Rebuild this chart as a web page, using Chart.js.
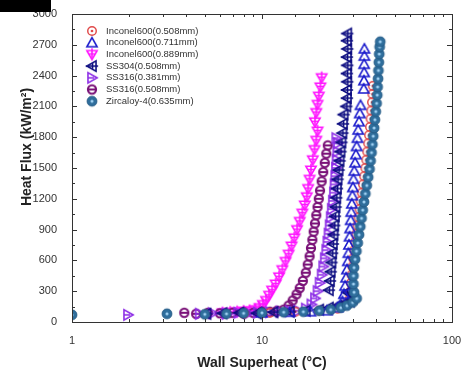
<!DOCTYPE html>
<html>
<head>
<meta charset="utf-8">
<script src="https://cdn.jsdelivr.net/npm/chart.js@4"></script>
<style>
  html, body { margin: 0; padding: 0; background: #fff; }
  #wrap { position: absolute; left: 0; top: 0; width: 467px; height: 379px; }
  #corner { position: absolute; left: 0; top: 0; width: 51px; height: 12px; background: #000; }
</style>
</head>
<body>
<div id="wrap"><canvas id="c" width="467" height="379"></canvas></div>
<div id="corner"></div>
<script>
// Axis ticks
const yTicks = [0, 300, 600, 900, 1200, 1500, 1800, 2100, 2400, 2700, 3000];
const xTickLabels = [1, 10, 100];

// Inconel600 (0.508 mm)
const inc508_dT = [8, 11, 15, 20, 25, 28, 29, 29.3, 29.4, 29.6, 29.9, 30.2, 30.6, 31.0, 31.4, 31.8, 32.2, 32.6, 33.0, 33.5, 34.0, 34.5, 35.0, 35.4, 35.8, 36.2, 36.6, 37.0, 37.3, 37.6, 37.9, 38.1, 38.3];
const inc508_q  = [80, 90, 100, 110, 130, 170, 230, 300, 380, 460, 540, 620, 700, 780, 860, 940, 1020, 1100, 1180, 1260, 1340, 1420, 1500, 1580, 1660, 1740, 1820, 1900, 1980, 2060, 2140, 2220, 2300];

// Inconel600 (0.711 mm)
const inc711_dT = [10, 14, 18, 22, 25, 26.5, 27, 27.4, 27.7, 28.0, 28.3, 28.5, 28.7, 28.9, 29.1, 29.3, 29.5, 29.7, 29.9, 30.1, 30.3, 30.6, 30.9, 31.2, 31.5, 31.8, 32.1, 32.4, 32.7, 33.0, 34.3, 34.4, 34.5, 34.5, 34.6, 34.6];
const inc711_q  = [90, 95, 100, 110, 140, 200, 270, 350, 430, 510, 590, 670, 750, 830, 910, 990, 1070, 1150, 1230, 1310, 1390, 1470, 1550, 1630, 1710, 1790, 1870, 1950, 2030, 2110, 2270, 2350, 2430, 2510, 2590, 2660];

// Inconel600 (0.889 mm)
const inc889_dT = [6.2, 6.8, 7.4, 8.0, 8.6, 9.2, 9.7, 10.1, 10.5, 10.9, 11.3, 11.8, 12.3, 12.8, 13.3, 13.8, 14.3, 14.8, 15.3, 15.8, 16.3, 16.8, 17.2, 17.5, 17.8, 18.1, 18.5, 18.9, 19.3, 19.6, 19.0, 19.3, 19.6, 19.9, 20.3, 20.6];
const inc889_q  = [90, 95, 100, 105, 110, 120, 140, 170, 210, 260, 310, 370, 440, 510, 590, 660, 740, 820, 900, 980, 1060, 1140, 1220, 1300, 1390, 1480, 1580, 1680, 1770, 1860, 1950, 2040, 2120, 2200, 2290, 2380];

// SS304 (0.508 mm)
const ss304_dT = [5.1, 6.2, 7.6, 9.4, 11.5, 14, 17, 20, 22.5, 25, 27, 29, 30, 29.5, 28, 22.5, 22.8, 23.0, 23.2, 23.4, 23.6, 23.8, 24.0, 24.2, 24.4, 24.6, 24.8, 25.0, 25.3, 25.6, 25.9, 26.2, 26.5, 26.7, 26.9, 27.8, 28.0, 28.0, 28.1, 28.0, 28.1, 28.0, 28.1, 28.0, 28.1];
const ss304_q  = [80, 85, 90, 85, 95, 100, 110, 120, 140, 160, 180, 200, 230, 270, 290, 310, 400, 490, 580, 670, 760, 850, 940, 1030, 1120, 1210, 1300, 1390, 1480, 1570, 1660, 1750, 1840, 1930, 2020, 2100, 2180, 2260, 2340, 2420, 2500, 2580, 2660, 2740, 2810];

// SS316 (0.381 mm)
const ss381_dT = [1.97, 4.7, 5.5, 6.5, 7.5, 8.5, 9.5, 11, 12.5, 14, 15.5, 17, 18.2, 19.0, 19.6, 20.1, 20.6, 21.0, 21.4, 21.8, 22.1, 22.4, 22.7, 23.0, 23.3, 23.6, 23.9, 24.1, 24.3, 24.5, 24.7, 24.9, 25.1, 24.6];
const ss381_q  = [70, 80, 85, 80, 90, 85, 90, 95, 100, 105, 110, 130, 170, 230, 300, 380, 460, 540, 620, 700, 780, 860, 940, 1020, 1100, 1180, 1260, 1340, 1420, 1500, 1580, 1660, 1740, 1790];

// SS316 (0.508 mm)
const ss508_dT = [3.9, 4.5, 5.2, 6, 7, 8, 9, 10, 11, 12, 13, 13.8, 14.5, 15.2, 15.8, 16.4, 17.0, 17.4, 17.8, 18.1, 18.4, 18.7, 19.0, 19.3, 19.6, 19.9, 20.2, 20.6, 21.0, 21.4, 21.8, 22.2];
const ss508_q  = [90, 80, 90, 85, 90, 95, 90, 100, 100, 110, 120, 160, 210, 270, 330, 400, 480, 560, 640, 720, 800, 880, 960, 1040, 1120, 1200, 1280, 1370, 1460, 1550, 1640, 1720];

// Zircaloy-4 (0.635 mm)
const zr_dT = [1, 3.16, 5.0, 6.5, 8, 10, 13, 16.5, 20, 23, 26, 28, 30, 31.5, 30.5, 30.3, 30.3, 30.5, 30.9, 31.4, 31.9, 32.4, 32.9, 33.4, 33.9, 34.4, 35.0, 35.6, 36.2, 36.8, 37.3, 37.7, 38.1, 38.5, 38.9, 39.3, 39.7, 40.1, 40.4, 40.6, 40.8, 41.0, 41.2, 41.4, 41.6, 41.9];
const zr_q  = [70, 80, 75, 80, 85, 90, 95, 100, 110, 120, 140, 160, 190, 230, 290, 370, 450, 530, 610, 690, 770, 850, 930, 1010, 1090, 1170, 1250, 1330, 1410, 1490, 1570, 1650, 1730, 1810, 1890, 1970, 2050, 2130, 2210, 2290, 2370, 2450, 2530, 2610, 2680, 2730];

const toPoints = (xs, ys) => xs.map((x, i) => ({ x: x, y: ys[i] }));

// Small canvas glyphs used as point styles
function glyph(draw) {
  const s = 16;
  const c = document.createElement('canvas');
  c.width = s; c.height = s;
  const g = c.getContext('2d');
  g.translate(s / 2, s / 2);
  g.scale(1.12, 1.12);
  g.lineJoin = 'miter';
  draw(g);
  return c;
}
const mkCircleDot = glyph(g => {
  g.strokeStyle = '#e04a4a'; g.lineWidth = 1.3;
  g.beginPath(); g.arc(0, 0, 3.8, 0, Math.PI * 2); g.stroke();
  g.fillStyle = '#e04a4a'; g.beginPath(); g.arc(0, 0, 1.2, 0, Math.PI * 2); g.fill();
});
const mkTriUp = glyph(g => {
  g.strokeStyle = '#1a1acc'; g.lineWidth = 1.4;
  g.beginPath(); g.moveTo(0, -4.6); g.lineTo(4.6, 3.6); g.lineTo(-4.6, 3.6); g.closePath(); g.stroke();
});
const mkTriDownCross = glyph(g => {
  g.strokeStyle = '#ff14ff'; g.lineWidth = 1.4;
  g.beginPath(); g.moveTo(-4.6, -3.4); g.lineTo(4.6, -3.4); g.lineTo(0, 4.6); g.closePath(); g.stroke();
  g.beginPath(); g.moveTo(0, -5.5); g.lineTo(0, 3); g.moveTo(-3, -0.5); g.lineTo(3, -0.5); g.stroke();
});
const mkTriLeftCross = glyph(g => {
  g.strokeStyle = '#0c0c80'; g.lineWidth = 1.4;
  g.beginPath(); g.moveTo(-4.6, 0); g.lineTo(3.6, -4.6); g.lineTo(3.6, 4.6); g.closePath(); g.stroke();
  g.beginPath(); g.moveTo(-5.5, 0); g.lineTo(5.5, 0); g.moveTo(0.5, -2.5); g.lineTo(0.5, 2.5); g.stroke();
});
const mkTriRight = glyph(g => {
  g.strokeStyle = '#8c2ce6'; g.lineWidth = 1.4;
  g.beginPath(); g.moveTo(4.6, 0); g.lineTo(-3.6, -4.6); g.lineTo(-3.6, 4.6); g.closePath(); g.stroke();
  g.beginPath(); g.moveTo(-3.6, 0); g.lineTo(2, 0); g.stroke();
});
const mkCircleBar = glyph(g => {
  g.strokeStyle = '#7a1278'; g.lineWidth = 1.8;
  g.beginPath(); g.arc(0, 0, 3.7, 0, Math.PI * 2); g.stroke();
  g.beginPath(); g.moveTo(-3.7, 0); g.lineTo(3.7, 0); g.stroke();
});
const mkZr = glyph(g => {
  g.fillStyle = '#2f6e9c'; g.beginPath(); g.arc(0, 0, 4.4, 0, Math.PI * 2); g.fill();
  g.strokeStyle = '#245a84'; g.lineWidth = 0.8; g.stroke();
  g.fillStyle = '#9fd0f2'; g.beginPath(); g.arc(0, 0, 1.4, 0, Math.PI * 2); g.fill();
});

const series = [
  { label: 'Inconel600(0.508mm)', xs: inc508_dT, ys: inc508_q, style: mkCircleDot, order: 3 },
  { label: 'Inconel600(0.711mm)', xs: inc711_dT, ys: inc711_q, style: mkTriUp, order: 1 },
  { label: 'Inconel600(0.889mm)', xs: inc889_dT, ys: inc889_q, style: mkTriDownCross, order: 6 },
  { label: 'SS304(0.508mm)', xs: ss304_dT, ys: ss304_q, style: mkTriLeftCross, order: 2 },
  { label: 'SS316(0.381mm)', xs: ss381_dT, ys: ss381_q, style: mkTriRight, order: 4 },
  { label: 'SS316(0.508mm)', xs: ss508_dT, ys: ss508_q, style: mkCircleBar, order: 5 },
  { label: 'Zircaloy-4(0.635mm)', xs: zr_dT, ys: zr_q, style: mkZr, order: 0 }
];

const FONT = '"Liberation Sans", Arial, sans-serif';

// Frame, inward ticks on all four sides, legend and rotated y title
const decorPlugin = {
  id: 'decor',
  afterDraw(chart) {
    const { ctx, chartArea: a, scales } = chart;
    const xs = scales.x, ys = scales.y;
    ctx.save();
    ctx.strokeStyle = '#333';
    ctx.lineWidth = 1;
    ctx.strokeRect(Math.round(a.left) + 0.5, Math.round(a.top) + 0.5,
                   Math.round(a.right - a.left), Math.round(a.bottom - a.top));
    ctx.beginPath();
    xs.ticks.forEach(t => {
      const px = Math.round(xs.getPixelForValue(t.value)) + 0.5;
      const len = xTickLabels.includes(t.value) ? 5 : 3;
      ctx.moveTo(px, a.bottom); ctx.lineTo(px, a.bottom - len);
      ctx.moveTo(px, a.top); ctx.lineTo(px, a.top + len);
    });
    for (let v = 0; v <= 3000; v += 150) {
      const py = Math.round(ys.getPixelForValue(v)) + 0.5;
      const len = v % 300 === 0 ? 5 : 3;
      ctx.moveTo(a.left, py); ctx.lineTo(a.left + len, py);
      ctx.moveTo(a.right, py); ctx.lineTo(a.right - len, py);
    }
    ctx.stroke();

    // legend
    ctx.font = '9.5px ' + FONT;
    ctx.fillStyle = '#333';
    ctx.textBaseline = 'middle';
    ctx.textAlign = 'left';
    series.forEach((s, i) => {
      const y = 31 + i * 11.7;
      ctx.drawImage(s.style, 92 - s.style.width / 2, y - s.style.height / 2);
      ctx.fillText(s.label, 106, y);
    });

    // y axis title
    ctx.translate(27, 147);
    ctx.rotate(-Math.PI / 2);
    ctx.font = 'bold 14px ' + FONT;
    ctx.fillStyle = '#222';
    ctx.textAlign = 'center';
    ctx.fillText('Heat Flux (kW/m\u00B2)', 0, 0);
    ctx.restore();
  }
};

new Chart(document.getElementById('c'), {
  type: 'scatter',
  data: {
    datasets: series.map(s => ({
      label: s.label,
      data: toPoints(s.xs, s.ys),
      pointStyle: s.style,
      order: s.order,
      showLine: false
    }))
  },
  options: {
    responsive: false,
    animation: false,
    devicePixelRatio: 1,
    layout: { padding: { top: 14, right: 15, left: 0, bottom: 0 } },
    plugins: { legend: { display: false }, tooltip: { enabled: false } },
    scales: {
      x: {
        type: 'logarithmic',
        min: 1, max: 100,
        grid: { display: false },
        border: { display: false },
        ticks: {
          autoSkip: false, maxRotation: 0, padding: 4,
          color: '#333', font: { family: FONT, size: 11 },
          callback: v => xTickLabels.includes(v) ? String(v) : ''
        },
        title: {
          display: true, text: 'Wall Superheat (\u00B0C)', color: '#222',
          font: { family: FONT, size: 14, weight: 'bold' },
          padding: { top: 0, bottom: 7 }
        },
        afterFit: s => { s.height = 57; }
      },
      y: {
        min: 0, max: 3000,
        grid: { display: false },
        border: { display: false },
        afterBuildTicks: s => { s.ticks = yTicks.map(v => ({ value: v })); },
        ticks: {
          padding: 7, color: '#333', font: { family: FONT, size: 11 },
          callback: v => String(v)
        },
        afterFit: s => { s.width = 72; }
      }
    }
  },
  plugins: [decorPlugin]
});
</script>
</body>
</html>
